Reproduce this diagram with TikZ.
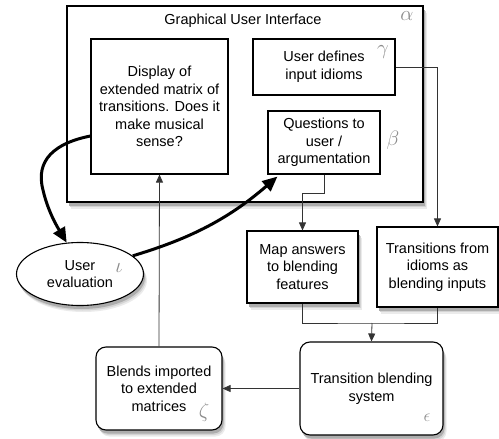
\documentclass[tikz,border=0pt]{standalone}
\usepackage{fontspec}
\setmainfont{Liberation Sans}
\usetikzlibrary{shapes.geometric,arrows.meta,calc}
\tikzset{
  box/.style={draw=black, line width=1.1pt, fill=white, align=center, inner sep=0pt,
    font=\fontsize{14.5}{17.5}\selectfont},
  conn/.style={draw=black!80, line width=0.8pt},
  arr/.style={conn, -{Triangle[length=8pt,width=7pt]}},
  thickarr/.style={draw=black, line width=3pt, -{Triangle[length=15pt,width=13pt]}},
  greek/.style={text=black!45, font=\fontsize{20}{20}\selectfont, inner sep=0pt},
  sh1/.style={fill=black!8}, sh2/.style={fill=black!17}, sh3/.style={fill=black!32},
}
% shadow drawn as three offset layers of a shape
\newcommand\boxshad[5]{% x1 y1 x2 y2 corner radius
  \fill[sh1, rounded corners=#5] (#1+3.5,#2+6.5) rectangle (#3+3.5,#4+6.5);
  \fill[sh2, rounded corners=#5] (#1+2.5,#2+5) rectangle (#3+2.5,#4+5);
  \fill[sh3, rounded corners=#5] (#1+1.5,#2+3.5) rectangle (#3+1.5,#4+3.5);}
\begin{document}
\begin{tikzpicture}[x=1pt,y=-1pt]
\useasboundingbox (0,0) rectangle (499,439);
% shadows (drawn first, behind everything)
\boxshad{67}{6}{423}{202}{0pt}
\boxshad{247}{231}{358}{303}{0pt}
\boxshad{377}{227}{498}{307}{0pt}
\boxshad{300}{342}{443}{435}{10pt}
\boxshad{96}{347}{222}{430}{10pt}
\fill[sh1] (83.5,280.5) ellipse [x radius=63.5pt, y radius=31.5pt];
\fill[sh2] (82.5,279) ellipse [x radius=63.5pt, y radius=31.5pt];
\fill[sh3] (81.5,277.5) ellipse [x radius=63.5pt, y radius=31.5pt];
% GUI frame
\node[box, minimum width=356pt, minimum height=196pt] (gui) at (245,104) {};
\node[font=\fontsize{14.5}{17.5}\selectfont, inner sep=0pt] (title) at (243,21) {Graphical User Interface};
\node[greek] (alpha) at (407,16) {$\alpha$};
% inner boxes
\node[box, minimum width=137pt, minimum height=135pt] (display) at (159.5,106.5)
  {Display of\\extended matrix of\\transitions. Does it\\make musical\\sense?};
\node[box, minimum width=142pt, minimum height=56pt] (define) at (324,67)
  {User defines\\input idioms};
\node[greek] (gamma) at (383,52) {$\gamma$};
\node[box, minimum width=112pt, minimum height=63pt] (quest) at (324,142.5)
  {Questions to\\user /\\argumentation};
\node[greek] (beta) at (393,140) {$\beta$};
% lower boxes
\node[box, minimum width=111pt, minimum height=72pt] (map) at (302.5,267)
  {Map answers\\to blending\\features};
\node[box, minimum width=121pt, minimum height=80pt] (trans) at (437.5,267)
  {Transitions from\\idioms as\\blending inputs};
\node[box, rounded corners=10pt, minimum width=143pt, minimum height=93pt] (blend) at (371.5,388.5)
  {Transition blending\\system};
\node[greek, font=\fontsize{16}{16}\selectfont] (eps) at (427,418) {$\epsilon$};
\node[box, rounded corners=10pt, minimum width=126pt, minimum height=83pt] (blends) at (159,388.5)
  {Blends imported\\to extended\\matrices};
\node[greek] (zeta) at (204,412) {$\zeta$};
\node[box, ellipse, minimum width=127pt, minimum height=63pt] (eval) at (80,274)
  {User\\evaluation};
\node[greek] (iota) at (119,268) {$\iota$};
% connectors
\draw[arr] (quest.south) -- ++(0,19) -| (map.north);
\draw[arr] (define.east) -| (trans.north);
\coordinate (j) at (372,323);
\draw[conn] (map.south) |- (j) -| (trans.south);
\draw[arr] (j) -- (blend.north);
\draw[arr] (blend.west) -- (blends.east);
\draw[arr] (blends.north) -- (display.south);
\draw[thickarr] ([yshift=-29.5pt]display.west) .. controls (55,143) and (35,160) .. (43,190)
  .. controls (48,212) and (58,228) .. (eval.113);
\draw[thickarr] (eval.19) .. controls (185,240) and (225,222) .. ([xshift=10pt,yshift=-2pt]quest.south west);
\end{tikzpicture}
\end{document}
